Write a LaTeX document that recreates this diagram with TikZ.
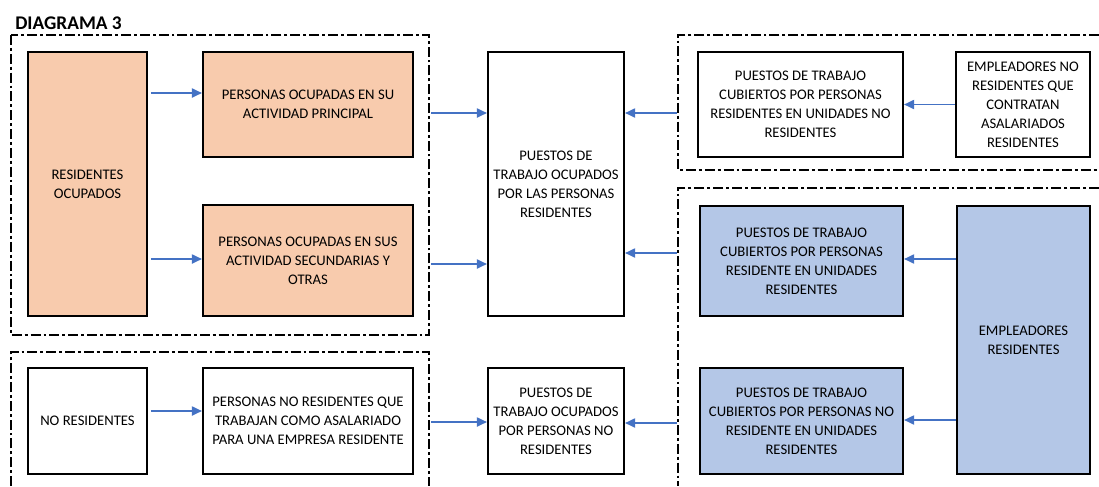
\documentclass[tikz,border=0pt]{standalone}
\usepackage{fontspec}
\setmainfont{Carlito}
\usetikzlibrary{arrows.meta}
\definecolor{orangefill}{RGB}{248,203,173}
\definecolor{bluefill}{RGB}{180,199,231}
\definecolor{arrowblue}{RGB}{68,114,196}
\tikzset{
  bx/.style={draw=black, line width=1.7pt, inner sep=0pt, align=center,
    font=\fontsize{11}{14.3}\selectfont},
  sz/.style 2 args={minimum width=#1*0.75pt, minimum height=#2*0.75pt},
  orangebox/.style={bx, fill=orangefill},
  bluebox/.style={bx, fill=bluefill},
  frame/.style={draw=black, line width=1.8pt,
    dash pattern=on 7.5pt off 2.2pt on 2.2pt off 2.2pt},
  arr/.style={draw=arrowblue, line width=0.8pt,
    -{Triangle[length=7.5pt,width=7pt]}},
}
\begin{document}
\begin{tikzpicture}[x=0.75pt,y=-0.75pt]
\useasboundingbox (0,0) rectangle (1099,486);
% title
\node[anchor=west, inner sep=0pt, font=\bfseries\fontsize{14.5}{17}\selectfont] (title) at (15,23.5) {DIAGRAMA 3};
% frames
\draw[frame] (11,35) rectangle (429,335);
\draw[frame] (11,486) -- (11,352) -- (429,352) -- (429,486);
\draw[frame] (1099,35) -- (678,35) -- (678,170) -- (1099,170);
\draw[frame] (1099,188) -- (678,188) -- (678,486);
\coordinate (f1a) at (431,113);
\coordinate (f1b) at (431,264);
\coordinate (f2a) at (431,422);
\coordinate (f3a) at (677,113);
\coordinate (f4a) at (677,253);
\coordinate (f4b) at (677,423);
% boxes
\node[orangebox, sz={119}{264}] (ro) at (87.5,184) {RESIDENTES\\OCUPADOS};
\node[orangebox, sz={210}{105}] (pp) at (308,104.5) {PERSONAS OCUPADAS EN SU\\ACTIVIDAD PRINCIPAL};
\node[orangebox, sz={210}{111}] (ps) at (308,260.5) {PERSONAS OCUPADAS EN SUS\\ACTIVIDAD SECUNDARIAS Y\\OTRAS};
\node[bx, sz={136}{264}] (mid1) at (556,184) {PUESTOS DE\\TRABAJO OCUPADOS\\POR LAS PERSONAS\\RESIDENTES};
\node[bx, sz={205}{105}] (pt1) at (800.5,104.5) {PUESTOS DE TRABAJO\\CUBIERTOS POR PERSONAS\\RESIDENTES EN UNIDADES NO\\RESIDENTES};
\node[bx, sz={134}{105}] (enr) at (1023,104.5) {EMPLEADORES NO\\RESIDENTES QUE\\CONTRATAN\\ASALARIADOS\\RESIDENTES};
\node[bluebox, sz={203}{110}] (bl1) at (801.5,261) {PUESTOS DE TRABAJO\\CUBIERTOS POR PERSONAS\\RESIDENTE EN UNIDADES\\RESIDENTES};
\node[bluebox, sz={203}{106}] (bl2) at (801.5,421) {PUESTOS DE TRABAJO\\CUBIERTOS POR PERSONAS NO\\RESIDENTE EN UNIDADES\\RESIDENTES};
\node[bluebox, sz={133}{268}] (er) at (1023.5,340) {EMPLEADORES\\RESIDENTES};
\node[bx, sz={119}{106}] (nr) at (87.5,421) {NO RESIDENTES};
\node[bx, sz={210}{106}] (pnr) at (308,421) {PERSONAS NO RESIDENTES QUE\\TRABAJAN COMO ASALARIADO\\PARA UNA EMPRESA RESIDENTE};
\node[bx, sz={136}{106}] (mid2) at (556,421) {PUESTOS DE\\TRABAJO OCUPADOS\\POR PERSONAS NO\\RESIDENTES};
% arrows
\draw[arr] ([xshift=2pt]ro.east |- 0,93) -- (pp.west |- 0,93);
\draw[arr] ([xshift=2pt]ro.east |- 0,259) -- (ps.west |- 0,259);
\draw[arr] (f1a) -- (mid1.west |- f1a);
\draw[arr] (f1b) -- (mid1.west |- f1b);
\draw[arr] (f3a) -- (mid1.east |- f3a);
\draw[arr] (f4a) -- (mid1.east |- f4a);
\draw[arr] (enr.west) -- (pt1.east);
\draw[arr] (er.west |- 0,259) -- (bl1.east |- 0,259);
\draw[arr] (er.west |- 0,420) -- (bl2.east |- 0,420);
\draw[arr] ([xshift=2pt]nr.east |- 0,411) -- (pnr.west |- 0,411);
\draw[arr] (f2a) -- (mid2.west |- f2a);
\draw[arr] (f4b) -- (mid2.east |- f4b);
\end{tikzpicture}
\end{document}
